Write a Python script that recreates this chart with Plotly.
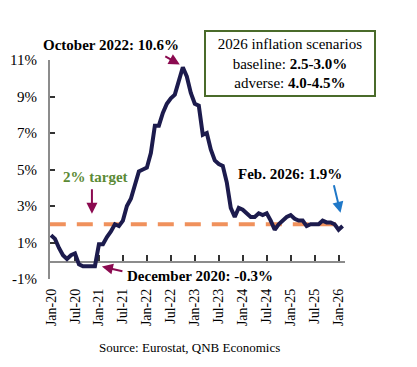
import plotly.graph_objects as go

# Euro area HICP inflation, y/y %, Jan 2020 - Feb 2026
inflation = [
    1.4, 1.2, 0.7, 0.3, 0.1, 0.3, 0.4, -0.2, -0.3, -0.3, -0.3, -0.3,   # 2020
    0.9, 0.9, 1.3, 1.6, 2.0, 1.9, 2.2, 3.0, 3.4, 4.1, 4.9, 5.0,        # 2021
    5.1, 5.9, 7.4, 7.4, 8.1, 8.6, 8.9, 9.1, 9.9, 10.6, 10.1, 9.2,      # 2022
    8.6, 8.5, 6.9, 7.0, 6.1, 5.5, 5.3, 5.2, 4.3, 2.9, 2.4, 2.9,        # 2023
    2.8, 2.6, 2.4, 2.4, 2.6, 2.5, 2.6, 2.2, 1.7, 2.0, 2.2, 2.4,        # 2024
    2.5, 2.3, 2.2, 2.2, 1.9, 2.0, 2.0, 2.0, 2.2, 2.1, 2.1, 2.0,        # 2025
    1.7, 1.9,                                                          # 2026
]
months = list(range(len(inflation)))
target_x = [-0.3, len(inflation) - 0.4]
target_y = [2.0, 2.0]

tick_pos = list(range(0, 73, 6))
tick_labels = ["Jan-20", "Jul-20", "Jan-21", "Jul-21", "Jan-22", "Jul-22", "Jan-23",
               "Jul-23", "Jan-24", "Jul-24", "Jan-25", "Jul-25", "Jan-26"]
y_ticks = [-1, 1, 3, 5, 7, 9, 11]
y_tick_labels = ["-1%", "1%", "3%", "5%", "7%", "9%", "11%"]

FONT = "Times New Roman"
W, H = 417, 367
L, R, T, B = 50, 345.5, 59.5, 279.5
X_RANGE = [-0.25, 73.6]
Y_RANGE = [-1, 11]
ZERO_FRAC = (0 - Y_RANGE[0]) / (Y_RANGE[1] - Y_RANGE[0])


def px(x, y):
    return (x - L) / (R - L), (B - y) / (B - T)


fig = go.Figure()
# helper traces so the zero-line axis (x on y2) and the label axis (x2 on y) exist
fig.add_trace(go.Scatter(x=[0], y=[0], xaxis="x", yaxis="y2", mode="markers",
                         marker=dict(opacity=0), hoverinfo="skip", showlegend=False))
fig.add_trace(go.Scatter(x=[0], y=[0], xaxis="x2", yaxis="y", mode="markers",
                         marker=dict(opacity=0), hoverinfo="skip", showlegend=False))
fig.add_trace(go.Scatter(x=target_x, y=target_y, xaxis="x2", yaxis="y", mode="lines",
                         line=dict(color="#F0915C", width=4, dash="16px,11px"),
                         hoverinfo="skip", showlegend=False))
fig.add_trace(go.Scatter(x=months, y=inflation, xaxis="x2", yaxis="y", mode="lines",
                         line=dict(color="#1C1B4D", width=4),
                         showlegend=False))

annotations = []


def text(s, x, y, size=15, color="black", xanchor="center", family=FONT):
    xp, yp = px(x, y)
    annotations.append(dict(text=s, x=xp, y=yp, xref="paper", yref="paper",
                            showarrow=False, xanchor=xanchor, yanchor="middle",
                            font=dict(family=family, size=size, color=color)))


def arrow(x0, y0, x1, y1, color):
    xp, yp = px(x1, y1)
    annotations.append(dict(text="", x=xp, y=yp, xref="paper", yref="paper",
                            ax=x0 - x1, ay=y0 - y1, showarrow=True,
                            arrowhead=2, arrowsize=1.1, arrowwidth=2,
                            arrowcolor=color))


text("<b>October 2022: 10.6%</b>", 111, 44, 15)
arrow(164, 55, 180, 64, "#8B0A50")
text("<b>2% target</b>", 96, 177, 15, "#5B8A35")
arrow(92, 188, 92, 214, "#8B0A50")
text("<b>December 2020: -0.3%</b>", 200, 276, 15)
arrow(124, 272, 102, 267, "#8B0A50")
text("<b>Feb. 2026: 1.9%</b>", 290, 174, 15)
arrow(334, 184, 341, 213, "#1F78C8")

xb, yb = px(290, 63)
annotations.append(dict(
    text="2026 inflation scenarios<br>baseline: <b>2.5-3.0%</b><br>adverse: <b>4.0-4.5%</b>",
    x=xb, y=yb, xref="paper", yref="paper", showarrow=False,
    xanchor="center", yanchor="middle", align="center",
    font=dict(family=FONT, size=15, color="black"),
    bordercolor="#4A6B2A", borderwidth=2, borderpad=4, bgcolor="white",
    width=160))

xs, ys = px(190, 348)
annotations.append(dict(text="Source: Eurostat, QNB Economics", x=xs, y=ys,
                        xref="paper", yref="paper", showarrow=False,
                        xanchor="center", yanchor="middle",
                        font=dict(family=FONT, size=13, color="black")))

fig.update_layout(
    width=W, height=H,
    margin=dict(l=L, r=W - R, t=T, b=H - B, autoexpand=False),
    paper_bgcolor="white", plot_bgcolor="rgba(0,0,0,0)",
    font=dict(family=FONT, size=14, color="black"),
    # axis line + tick marks crossing at 0%
    xaxis=dict(range=X_RANGE, anchor="y2", side="bottom",
               tickvals=tick_pos, showticklabels=False, ticks="inside",
               ticklen=6, tickwidth=1.5, tickcolor="#333333",
               showline=True, linecolor="#8C8C8C", linewidth=2,
               showgrid=False, zeroline=False),
    # tick labels at the bottom of the plot area
    xaxis2=dict(range=X_RANGE, overlaying="x", anchor="y", side="bottom",
                tickvals=tick_pos, ticktext=tick_labels,
                tickangle=-90, showgrid=False, zeroline=False, showline=False,
                ticks="", ticklabelstandoff=6, tickfont=dict(size=14)),
    yaxis=dict(range=Y_RANGE, tickvals=y_ticks, ticktext=y_tick_labels,
               showgrid=False, zeroline=False, showline=True,
               linecolor="#8C8C8C", linewidth=2, ticks="inside", ticklen=5,
               tickwidth=1.5, tickcolor="#333333", ticklabelstandoff=8,
               tickfont=dict(size=15)),
    yaxis2=dict(domain=[ZERO_FRAC, 1], range=[0, Y_RANGE[1]], anchor="x",
                showline=False, showticklabels=False, ticks="",
                showgrid=False, zeroline=False),
    annotations=annotations,
)

fig.write_html("out.html", post_script="document.body.style.margin='0';",
               config={"displayModeBar": False})
